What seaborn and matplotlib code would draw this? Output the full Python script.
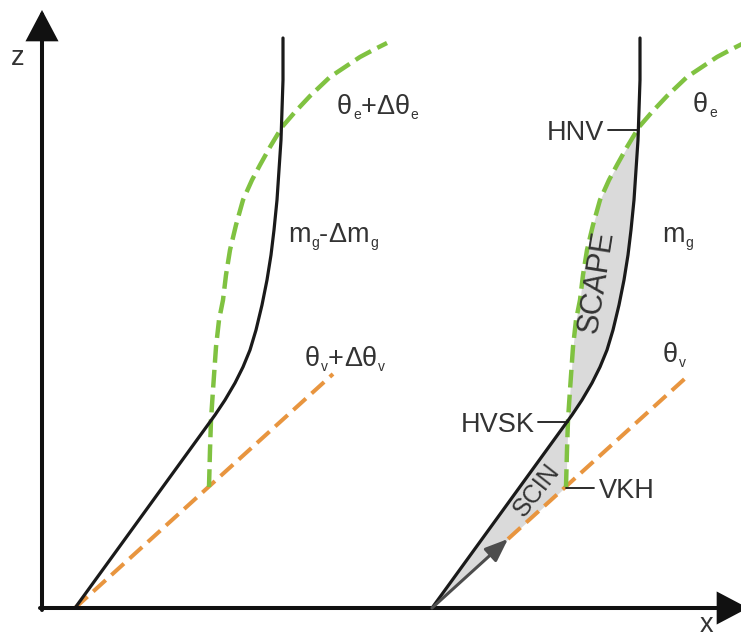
import numpy as np
import matplotlib
matplotlib.use("Agg")
import matplotlib.pyplot as plt
from matplotlib.transforms import IdentityTransform
import seaborn as sns

# ---- data: schematic profiles relative to each panel origin (horizontal offset, height z)
black_dx = [0, 140, 150, 160, 168, 175, 181, 187, 192, 196, 199, 202, 204, 206, 207, 208, 208]
black_z = [0, 193, 208, 225, 241, 258, 278, 303, 328, 353, 378, 408, 438, 468, 498, 528, 570]
green_dx = [134, 135, 136, 138, 141, 144, 148, 151, 155, 161, 168, 177, 185, 195, 207, 220,
            235, 255, 270, 285, 300, 312]
green_z = [121, 158, 188, 218, 261, 288, 308, 333, 358, 383, 408, 428, 443, 461, 481, 496,
           512, 531, 541, 551, 559, 565]
orange_dx = [0, 258]
orange_z = [0, 234]
arrow_dx = [0, 76]
arrow_z = [0, 69]
panel_x0 = [33, 390]

# labels: (text, is_subscript)
left_labels = [
    [("θ", 0), ("e", 1), ("+Δθ", 0), ("e", 1)],
    [("m", 0), ("g", 1), ("-Δm", 0), ("g", 1)],
    [("θ", 0), ("v", 1), ("+Δθ", 0), ("v", 1)],
]
right_labels = [
    [("θ", 0), ("e", 1)],
    [("m", 0), ("g", 1)],
    [("θ", 0), ("v", 1)],
]
level_names = ["HNV", "HVSK", "VKH"]
area_names = ["SCAPE", "SCIN"]

sns.set_theme(style="white")
plt.rcParams["font.family"] = ["Liberation Sans", "DejaVu Sans"]

BLACK = "#1a1a1a"
GREEN = "#80c241"
ORANGE = "#e8953f"
FILL = "#dadada"
TXT = "#333333"
FS = 19.5
FS_SUB = 10

fig = plt.figure(figsize=(7.41, 6.39), dpi=100)
ax = fig.add_axes([0, 0, 1, 1])
ax.set_xlim(-42, 699)
ax.set_ylim(-31, 608)
ax.set_axis_off()

bdx = np.array(black_dx, float)
bz = np.array(black_z, float)
gdx = np.array(green_dx, float)
gz = np.array(green_z, float)
slope = (orange_dx[1] - orange_dx[0]) / (orange_z[1] - orange_z[0])

# crossings of black and green profile
zg = np.linspace(gz[0], gz[-1], 4000)
diff = np.interp(zg, bz, bdx) - np.interp(zg, gz, gdx)
idx = np.where(np.diff(np.sign(diff)) != 0)[0]
z_low, z_high = zg[idx[0]], zg[idx[-1]]
z_vkh = gz[0]

# axes with arrows
arw = dict(arrowstyle="-|>,head_length=1.8,head_width=0.95", lw=2.9, color="#111111",
           shrinkA=0, shrinkB=0, mutation_scale=10, joinstyle="miter")
ax.annotate("", xy=(0, 598), xytext=(0, -2), arrowprops=arw, zorder=5, annotation_clip=False)
ax.annotate("", xy=(706, 0), xytext=(-2, 0), arrowprops=arw, zorder=5, annotation_clip=False)
ax.text(-24, 550, "z", fontsize=FS, color=TXT, ha="center", va="center")
ax.text(665, -30, "x", fontsize=FS, color=TXT, ha="center", va="bottom")

for p, x0 in enumerate(panel_x0):
    if p == 0:
        ox = [x0 + orange_dx[0], x0 + orange_dx[1]]
        oz = orange_z
    else:
        ox = [x0 + arrow_dx[1], x0 + orange_dx[1]]
        oz = [arrow_z[1], orange_z[1]]
    sns.lineplot(x=ox, y=oz, ax=ax, color=ORANGE, linewidth=2.9, sort=False,
                 estimator=None, linestyle=(0, (4.2, 1.9)), dash_capstyle="butt", zorder=3)
    sns.lineplot(x=x0 + gdx, y=gz, ax=ax, color=GREEN, linewidth=3.2, sort=False,
                 estimator=None, linestyle=(0, (4.0, 1.6)), dash_capstyle="butt", zorder=3)
    sns.lineplot(x=x0 + bdx, y=bz, ax=ax, color=BLACK, linewidth=2.3, sort=False,
                 estimator=None, zorder=4, solid_joinstyle="round")

x0 = panel_x0[1]
za = np.linspace(z_low, z_high, 400)
ax.fill_betweenx(za, x0 + np.interp(za, gz, gdx), x0 + np.interp(za, bz, bdx),
                 color=FILL, lw=0, zorder=1)
zb = np.linspace(0, z_low, 400)
right_edge = np.where(zb < z_vkh, zb * slope, np.interp(zb, gz, gdx))
ax.fill_betweenx(zb, x0 + np.interp(zb, bz, bdx), x0 + right_edge, color=FILL, lw=0, zorder=1)

ax.annotate("", xy=(x0 + arrow_dx[1], arrow_z[1]), xytext=(x0 + arrow_dx[0], arrow_z[0]),
            arrowprops=dict(arrowstyle="-|>,head_length=1.4,head_width=0.55", lw=2.2,
                            color="#4d4d4d", shrinkA=0, shrinkB=0, mutation_scale=10),
            zorder=5)

x_high = x0 + np.interp(z_high, bz, bdx)
x_low = x0 + np.interp(z_low, bz, bdx)
x_vkh = x0 + gdx[0]
ax.plot([x_high - 30, x_high], [z_high - 2, z_high - 2], color=BLACK, lw=1.3, zorder=4)
ax.plot([x_low - 30, x_low], [z_low - 1, z_low - 1], color=BLACK, lw=1.3, zorder=4)
ax.plot([x_vkh, x_vkh + 28], [z_vkh - 1, z_vkh - 1], color=BLACK, lw=1.3, zorder=4)
ax.text(x_high - 34, z_high - 12, level_names[0], fontsize=FS, color=TXT, ha="right", va="baseline")
ax.text(x_low - 33, z_low - 11, level_names[1], fontsize=FS, color=TXT, ha="right", va="baseline")
ax.text(x_vkh + 33, z_vkh - 11, level_names[2], fontsize=FS, color=TXT, ha="left", va="baseline")

ax.text(555, 326, area_names[0], fontsize=22, color=TXT, rotation=81, ha="center", va="center",
        rotation_mode="anchor")
ax.text(495, 118, area_names[1], fontsize=18, color=TXT, rotation=52, ha="center", va="center",
        rotation_mode="anchor")

renderer = fig.canvas.get_renderer()


def rich_text(x, z, pieces):
    px, py = ax.transData.transform((x, z))
    for s, sub in pieces:
        for ch in s:
            t = ax.text(px + (1 if sub else 0), py - (5 if sub else 0), ch,
                        fontsize=FS_SUB if sub else FS, color=TXT, ha="left", va="baseline",
                        transform=IdentityTransform())
            px += t.get_window_extent(renderer).width + (1 if sub else 0)


lx = [295, 246, 263]
lz = [494, 366, 242]
rx = [651, 620, 621]
rz = [496, 366, 246]
for i in range(3):
    rich_text(lx[i], lz[i], left_labels[i])
    rich_text(rx[i], rz[i], right_labels[i])

fig.savefig("out.png", dpi=100)
